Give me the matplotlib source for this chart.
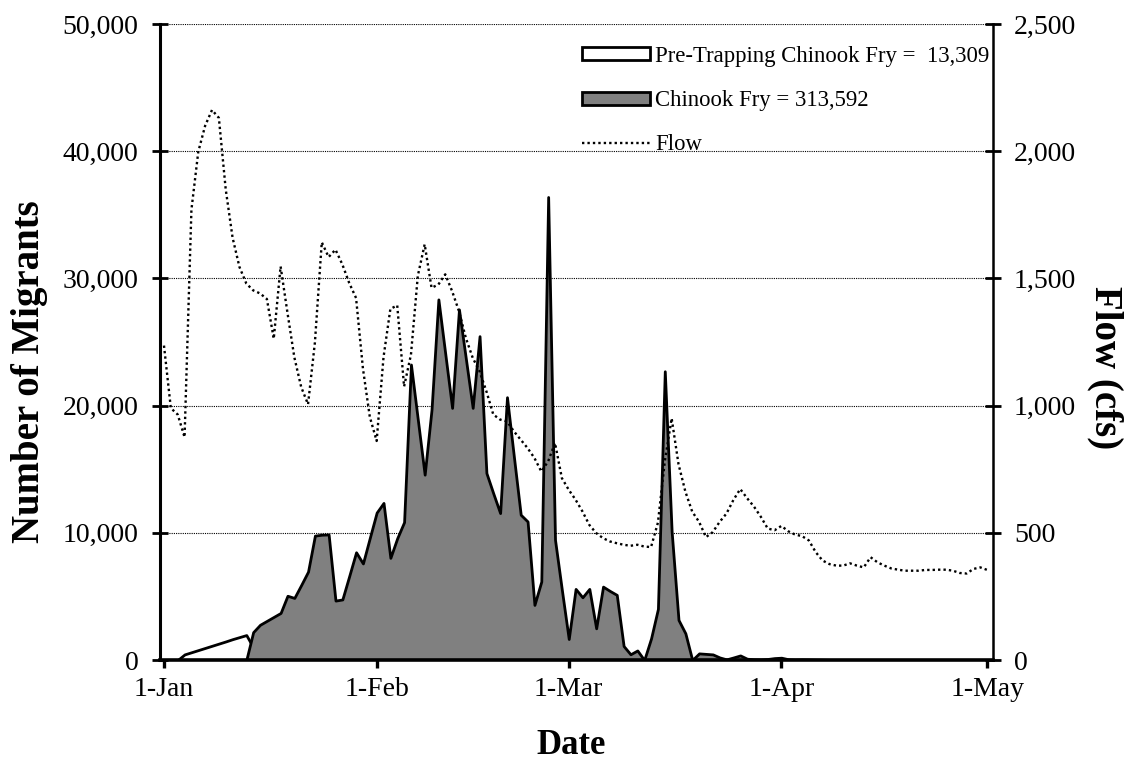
import numpy as np
import matplotlib
matplotlib.use("Agg")
import matplotlib.pyplot as plt
from matplotlib.patches import Patch
from matplotlib.lines import Line2D

plt.rcParams['font.family'] = ['Liberation Serif', 'DejaVu Serif']

# ---------------- data (day 0 = 1-Jan) ----------------
pretrap_fry = [0, 0, 0, 440, 610, 780, 950, 1120, 1290, 1460, 1640, 1800, 1960, 1000, 0]

chinook_fry = [
    0, 0, 0, 0, 0, 0, 0, 0, 0, 0, 0, 0,            # d0-d11
    0, 2190, 2770, 3080, 3390, 3700, 5050, 4880,   # d12-d19
    5900, 6950, 9780, 9850, 9870, 4670, 4760, 6600,  # d20-d27
    8470, 7590, 9600, 11590, 12350, 8030, 9580, 10840,  # d28-d35
    23230, 18900, 14570, 19690, 28350, 24080, 19820, 27560,  # d36-d43
    23700, 19820, 25460, 14700, 13100, 11550, 20660, 16000,  # d44-d51
    11420, 10890, 4330, 6170, 36400, 9450, 5500, 1650,  # d52-d59
    5590, 4930, 5590, 2490, 5770, 5430, 5120, 1100,  # d60-d67
    450, 750, 0, 1700, 4020, 22700, 10100, 3150,     # d68-d75
    2100, 0, 520, 480, 440, 200, 50, 200,            # d76-d83
    360, 100, 60, 50, 80, 150, 180, 60,              # d84-d91
    40, 50, 40, 30, 20, 10, 0, 0,                    # d92-d99
    0, 0, 0, 0, 0, 0, 0, 0, 0, 0,                    # d100-d109
    0, 0, 0, 0, 0, 0, 0, 0, 0, 0, 0,                 # d110-d120
]

flow_cfs = [
    1236, 990, 965, 876, 1770, 1998, 2100, 2162, 2131, 1850,   # d0-d9
    1660, 1545, 1480, 1453, 1441, 1419, 1263, 1547, 1365, 1190,  # d10-d19
    1073, 1005, 1248, 1642, 1584, 1613, 1555, 1482, 1423, 1146,  # d20-d29
    956, 861, 1190, 1380, 1394, 1075, 1200, 1510, 1634, 1463,    # d30-d39
    1476, 1516, 1450, 1371, 1266, 1188, 1135, 1056, 965, 945,    # d40-d49
    938, 899, 866, 833, 794, 741, 781, 853, 715, 669,            # d50-d59
    630, 584, 531, 499, 479, 466, 459, 453, 449, 453,            # d60-d69
    446, 444, 540, 780, 950, 770, 662, 583, 543, 483,            # d70-d79
    503, 543, 576, 629, 672, 636, 603, 563, 517, 510,            # d80-d89
    527, 506, 493, 487, 470, 424, 391, 377, 371, 371,            # d90-d99
    380, 371, 364, 404, 384, 371, 360, 355, 351, 351,            # d100-d109
    351, 354, 354, 355, 355, 351, 342, 340, 358, 364,            # d110-d119
    354,                                                         # d120
]

tick_days = [0, 31, 59, 90, 120]
tick_labels = ['1-Jan', '1-Feb', '1-Mar', '1-Apr', '1-May']
legend_labels = ['Pre-Trapping Chinook Fry =  13,309', 'Chinook Fry = 313,592', 'Flow']

# ---------------- figure ----------------
W, H = 1132, 766
fig = plt.figure(figsize=(W / 100, H / 100), dpi=100)
L, R, T, B = 160, 992.5, 24, 660
ax = fig.add_axes([L / W, 1 - B / H, (R - L) / W, (B - T) / H])

d_pre = np.arange(len(pretrap_fry))
d_all = np.arange(len(chinook_fry))
d_flow = np.arange(len(flow_cfs))

ax.fill_between(d_pre, pretrap_fry, 0, facecolor='white', edgecolor='black',
                linewidth=2.0, zorder=2)
ax.fill_between(d_all, chinook_fry, 0, facecolor='#808080', edgecolor='black',
                linewidth=2.0, zorder=3)

ax.set_xlim(-0.58, 120.77)
ax.set_ylim(0, 50000)
ax.set_yticks(np.arange(0, 50001, 10000))
ax.set_yticklabels([f'{v:,}' for v in range(0, 50001, 10000)])
ax.set_xticks(tick_days)
ax.set_xticklabels(tick_labels)

ax.yaxis.grid(True, linestyle=(0, (1, 1)), color='black', linewidth=0.8, zorder=1)
ax.set_axisbelow(True)

for s in ['top', 'right']:
    ax.spines[s].set_visible(False)
ax.spines['left'].set_linewidth(2.2)
ax.spines['bottom'].set_linewidth(2.6)
ax.spines['bottom'].set_zorder(5)

ax.tick_params(axis='y', direction='inout', length=11, width=2.0, labelsize=20, pad=10)
ax.tick_params(axis='x', direction='out', length=5.5, width=2.4, labelsize=20, pad=7)

ax2 = ax.twinx()
ax2.plot(d_flow, flow_cfs, color='black', linewidth=1.7, linestyle=(0, (1, 1.3)), zorder=4)
ax2.set_ylim(0, 2500)
ax2.set_yticks(np.arange(0, 2501, 500))
ax2.set_yticklabels([f'{v:,}' for v in range(0, 2501, 500)])
for s in ['top', 'left', 'bottom']:
    ax2.spines[s].set_visible(False)
ax2.spines['right'].set_linewidth(1.8)
ax2.tick_params(axis='y', direction='inout', length=11, width=2.0, labelsize=20, pad=10)

handles = [
    Patch(facecolor='white', edgecolor='black', linewidth=2.0),
    Patch(facecolor='#808080', edgecolor='black', linewidth=2.0),
    Line2D([], [], color='black', linewidth=1.7, linestyle=(0, (1, 1.3))),
]
ax2.legend(handles, legend_labels, loc='upper left',
           bbox_to_anchor=(582 / W, 1 - 46 / H), bbox_transform=fig.transFigure,
           frameon=False, fontsize=16.4, handlelength=3.0, handleheight=0.5,
           handletextpad=0.22, labelspacing=1.02, borderaxespad=0, borderpad=0)

fig.text(30 / W, 1 - 372 / H, 'Number of Migrants', rotation=90, ha='center',
         va='center', fontsize=28, fontweight='bold')
fig.text(1105 / W, 1 - 368 / H, 'Flow (cfs)', rotation=270, ha='center',
         va='center', fontsize=28, fontweight='bold')
fig.text(571 / W, 1 - 745 / H, 'Date', ha='center', va='center',
         fontsize=25, fontweight='bold')

fig.savefig('out.png', dpi=100)
